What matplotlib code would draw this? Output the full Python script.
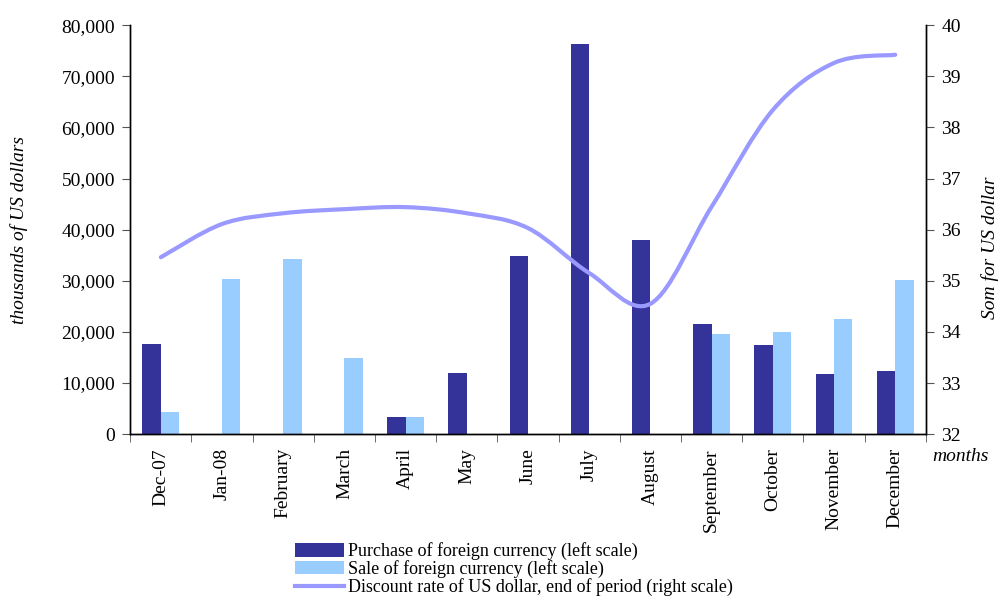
import numpy as np
import matplotlib.pyplot as plt
from matplotlib.path import Path
from matplotlib.patches import PathPatch
from matplotlib.lines import Line2D

plt.rcParams['font.family'] = ['Liberation Serif', 'DejaVu Serif']

# Data
months = ['Dec-07', 'Jan-08', 'February', 'March', 'April', 'May', 'June',
          'July', 'August', 'September', 'October', 'November', 'December']
purchase = [17600, 0, 0, 0, 3300, 11900, 34800, 76300, 37900, 21500, 17400, 11700, 12300]
sale = [4300, 30300, 34200, 14900, 3300, 0, 0, 0, 0, 19600, 19900, 22500, 30100]
rate = [35.46, 36.11, 36.32, 36.40, 36.44, 36.32, 36.03, 35.15, 34.55, 36.45, 38.34, 39.26, 39.42]

dark = '#333399'
light = '#99CCFF'
line_c = '#9999FF'
fs = 14

fig = plt.figure(figsize=(10.02, 5.98), dpi=100)
ax = fig.add_axes([0.130, 0.274, 0.794, 0.684])
ax2 = ax.twinx()

x = np.arange(len(months))
w = 0.3
b1 = ax.bar(x - w / 2, purchase, w, color=dark, label='Purchase of foreign currency (left scale)', zorder=2)
b2 = ax.bar(x + w / 2, sale, w, color=light, label='Sale of foreign currency (left scale)', zorder=2)

# smoothed line (Excel style) as bezier path through the data points
pts = np.column_stack([x, rate])
verts = [pts[0]]
codes = [Path.MOVETO]
for i in range(len(pts) - 1):
    p0 = pts[max(i - 1, 0)]
    p1 = pts[i]
    p2 = pts[i + 1]
    p3 = pts[min(i + 2, len(pts) - 1)]
    c1 = p1 + (p2 - p0) / 6
    c2 = p2 - (p3 - p1) / 6
    verts += [c1, c2, p2]
    codes += [Path.CURVE4] * 3
ax2.add_patch(PathPatch(Path(verts, codes), fill=False, edgecolor=line_c, lw=3, capstyle='round'))
l1 = Line2D([], [], color=line_c, lw=3, label='Discount rate of US dollar, end of period (right scale)')

ax.set_xlim(-0.5, len(months) - 0.5)
ax.set_ylim(0, 80000)
ax.set_yticks(np.arange(0, 80001, 10000))
ax.set_yticklabels([f'{v:,}' for v in range(0, 80001, 10000)])
ax2.set_ylim(32, 40)
ax2.set_yticks(range(32, 41))

ax.set_xticks(x)
ax.set_xticklabels(months, rotation=90)
ax.set_xticks(np.arange(-0.5, len(months)), minor=True)
ax.tick_params(axis='x', which='major', length=0, pad=10, labelsize=fs)
ax.tick_params(axis='x', which='minor', length=6, direction='out', color='#555555')
ax.tick_params(axis='y', length=6, direction='out', color='#555555', labelsize=fs, pad=5)
ax2.tick_params(axis='y', length=6, direction='out', color='#555555', labelsize=fs, pad=5)

for a in (ax, ax2):
    a.spines['top'].set_visible(False)
    for s in ('left', 'right', 'bottom'):
        a.spines[s].set_color('black')
        a.spines[s].set_linewidth(1)

ax.set_ylabel('thousands of US dollars', fontstyle='italic', fontsize=fs)
ax.yaxis.set_label_coords(-0.129, 0.5)
ax2.set_ylabel('Som for US dollar', fontstyle='italic', fontsize=fs)
ax2.yaxis.set_label_coords(1.07, 0.455)
fig.text(0.930, 0.236, 'months', fontstyle='italic', fontsize=fs, ha='left', va='center')

fig.legend(handles=[b1, b2, l1], loc='lower left', bbox_to_anchor=(0.282, -0.018),
           frameon=False, fontsize=13, handlelength=2.7, handleheight=0.75,
           labelspacing=0.0, handletextpad=0.25, borderpad=0.2)

fig.savefig('out.png', dpi=100)
